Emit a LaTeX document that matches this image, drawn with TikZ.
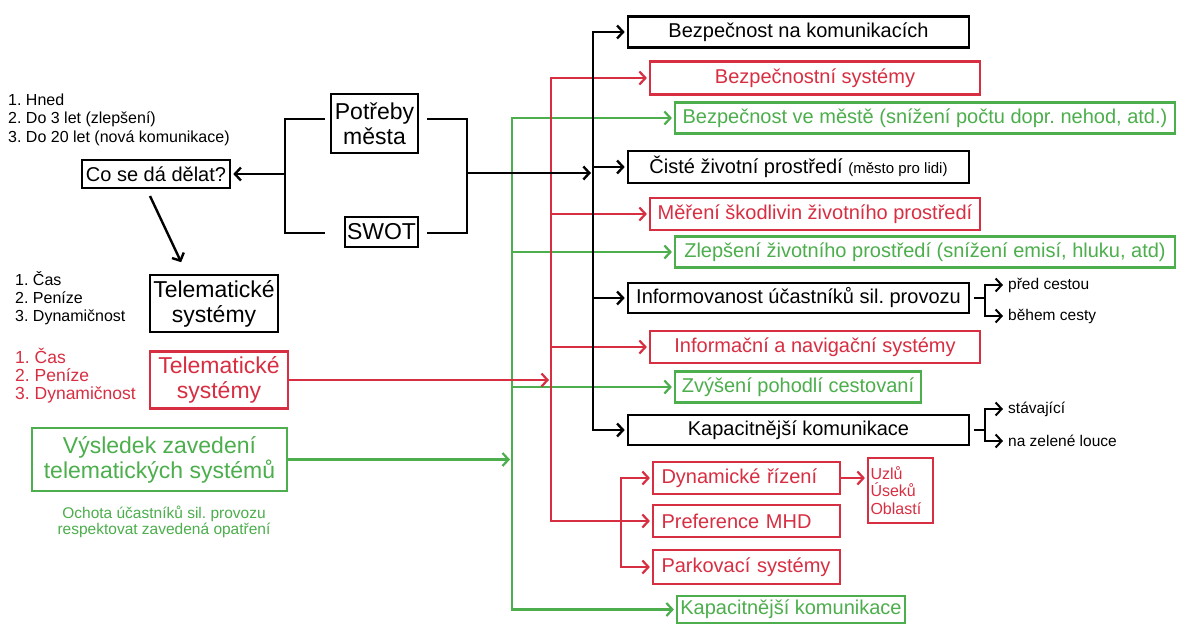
\documentclass[tikz,border=0pt]{standalone}
\usepackage{fontspec}
\setmainfont{Liberation Sans}
\usetikzlibrary{arrows.meta}
\definecolor{myred}{RGB}{216,46,66}
\definecolor{mygreen}{RGB}{76,174,76}
\frenchspacing
\begin{document}
\begin{tikzpicture}[x=1pt,y=-1pt,
  bx/.style={draw=black, line width=2.6pt, inner sep=0pt, font=\fontsize{20}{22}\selectfont},
  rbx/.style={bx, draw=myred, text=myred, line width=2.2pt},
  gbx/.style={bx, draw=mygreen, text=mygreen, line width=2.2pt},
  big/.style={font=\fontsize{23}{25}\selectfont, align=center},
  kl/.style={line width=2.4pt, draw=black},
  rl/.style={line width=2.2pt, draw=myred},
  gl/.style={line width=2.2pt, draw=mygreen},
  arr/.style={-{Straight Barb[length=6pt,width=13pt]}, shorten >=2pt},
  txt/.style={inner sep=0pt, anchor=base west},
  small/.style={inner sep=0pt, anchor=west, font=\fontsize{15.5}{17}\selectfont},
  wbox/.style={minimum width=341pt},
  rwbox/.style={minimum width=330pt},
  gwbox/.style={minimum width=500pt},
  lbox/.style={rbx, minimum width=187pt, text width=170pt, align=left}
]
\useasboundingbox[fill=white] (0,0) rectangle (1178,624);

% ---------- left side ----------
\node[txt, font=\fontsize{16}{18}\selectfont] (h1) at (8,105) {1. Hned};
\node[txt, font=\fontsize{16}{18}\selectfont] (h2) at (8,123) {2. Do 3 let (zlepšení)};
\node[txt, font=\fontsize{16}{18}\selectfont] (h3) at (8,142) {3. Do 20 let (nová komunikace)};

\node[bx, minimum width=148pt, minimum height=28pt] (co) at (156,174) {Co se dá dělat?};
\node[bx, big, minimum width=87pt, minimum height=59pt] (pm) at (374.5,123.5) {Potřeby\\města};
\node[bx, big, minimum width=73pt, minimum height=30pt] (sw) at (381.5,232) {SWOT};

\node[txt, font=\fontsize{16}{18}\selectfont] (k1) at (15,285) {1. Čas};
\node[txt, font=\fontsize{16}{18}\selectfont] (k2) at (15,303) {2. Peníze};
\node[txt, font=\fontsize{16}{18}\selectfont] (k3) at (15,321) {3. Dynamičnost};
\node[bx, big, minimum width=128pt, minimum height=57pt] (tk) at (214,303.5) {Telematické\\systémy};

\node[txt, text=myred, font=\fontsize{17.5}{19}\selectfont] (q1) at (15,363) {1. Čas};
\node[txt, text=myred, font=\fontsize{17.5}{19}\selectfont] (q2) at (15,381) {2. Peníze};
\node[txt, text=myred, font=\fontsize{17.5}{19}\selectfont] (q3) at (15,399) {3. Dynamičnost};
\node[rbx, big, minimum width=138pt, minimum height=57pt] (tr) at (219,380) {Telematické\\systémy};

\node[gbx, big, minimum width=255pt, minimum height=63pt] (vz) at (159.5,459.5) {Výsledek zavedení\\telematických systémů};
\node[inner sep=0pt, anchor=base, text=mygreen, font=\fontsize{15.5}{17}\selectfont] (o1) at (164,518) {Ochota účastníků sil. provozu};
\node[inner sep=0pt, anchor=base, text=mygreen, font=\fontsize{15.5}{17}\selectfont] (o2) at (164,534) {respektovat zavedená opatření};

% ---------- right column ----------
\node[bx, wbox, minimum height=31pt] (b1) at (798.5,32) {Bezpečnost na komunikacích};
\node[rbx, rwbox, minimum height=33pt] (b2) at (815,78) {Bezpečnostní systémy};
\node[gbx, gwbox, minimum height=31pt] (b3) at (925,118) {Bezpečnost ve městě (snížení počtu dopr. nehod, atd.)};
\node[bx, wbox, minimum height=32pt] (b4) at (798.5,167) {Čisté životní prostředí {\fontsize{15}{17}\selectfont (město pro lidi)}};
\node[rbx, rwbox, minimum height=32pt] (b5) at (815,214) {Měření škodlivin životního prostředí};
\node[gbx, gwbox, minimum height=31pt] (b6) at (925,252) {Zlepšení životního prostředí (snížení emisí, hluku, atd)};
\node[bx, wbox, minimum height=30pt] (b7) at (798.5,298) {Informovanost účastníků sil. provozu};
\node[rbx, rwbox, minimum height=32pt] (b8) at (815,347) {Informační a navigační systémy};
\node[gbx, minimum width=246pt, minimum height=31pt] (b9) at (798,387) {Zvýšení pohodlí cestovaní};
\node[bx, wbox, minimum height=30pt] (b10) at (798.5,430) {Kapacitnější komunikace};

\node[lbox, minimum height=32pt] (r1) at (746.5,478) {\mbox{Dynamické řízení}};
\node[lbox, minimum height=32pt] (r2) at (746.5,521) {\mbox{Preference MHD}};
\node[lbox, minimum height=34pt] (r3) at (746.5,567) {\mbox{Parkovací systémy}};
\node[rbx, minimum width=65pt, minimum height=65pt, text width=60pt, align=left, font=\fontsize{16}{17.5}\selectfont] (u) at (900.5,490.5) {Uzlů\\Úseků\\Oblastí};
\node[gbx, minimum width=228pt, minimum height=27pt] (g4) at (791,609.5) {Kapacitnější komunikace};

\node[small] (pc) at (1008,285) {před cestou};
\node[small] (bc) at (1008,316) {během cesty};
\node[small] (st) at (1008,409) {stávající};
\node[small] (nz) at (1008,441) {na zelené louce};

% ---------- coordinates ----------
\coordinate (K) at (593,0);
\coordinate (R) at (551,0);
\coordinate (G) at (512,0);
\coordinate (S) at (621,0);
\coordinate (IB) at (985,0);
\coordinate (lt) at (325,119);
\coordinate (lb) at (325,233);
\coordinate (lx) at (285,174);
\coordinate (rt) at (427,119);
\coordinate (rb) at (427,233);
\coordinate (rx) at (467,173);
\coordinate (c1) at (150,196);
\coordinate (c2) at (182,264);

% ---------- green connectors ----------
\draw[gl,arr] (b6.west -| G) -- (b3.west -| G) -- (b3.west);
\draw[gl,arr] (b6.west -| G) -- (b6.west);
\draw[gl,arr] (b9.west -| G) -- (b9.west);
\draw[gl,arr] (b6.west -| G) -- (g4.west -| G) -- (g4.west);
\draw[gl,arr] (vz.east) -- (vz.east -| G);

% ---------- red connectors ----------
\draw[rl,arr] (b8.west -| R) -- (b2.west -| R) -- (b2.west);
\draw[rl,arr] (b5.west -| R) -- (b5.west);
\draw[rl,arr] (b8.west -| R) -- (b8.west);
\draw[rl] (b8.west -| R) -- (r2.west -| R) -- (r2.west -| S);
\draw[rl,arr] (r2.west -| S) -- (r1.west -| S) -- (r1.west);
\draw[rl,arr] (r2.west -| S) -- (r3.west -| S) -- (r3.west);
\draw[rl,arr] (r2.west -| S) -- (r2.west);
\draw[rl,arr] (r1.east) -- (u.west |- r1.east);
\draw[rl,arr] (tr.east) -- (tr.east -| R);

% ---------- black connectors ----------
\draw[kl] (lt) -| (lx) |- (lb);
\draw[kl,arr] (lx) -- (co.east);
\draw[kl] (rt) -| (rx) |- (rb);
\draw[kl,arr] (rx) -- (rx -| K);
\draw[kl,arr] (c1) -- (c2);
\draw[kl,arr] (b4.west -| K) -- (b1.west -| K) -- (b1.west);
\draw[kl,arr] (b4.west -| K) -- (b4.west);
\draw[kl,arr] (b7.west -| K) -- (b7.west);
\draw[kl,arr] (b4.west -| K) -- (b10.west -| K) -- (b10.west);

\draw[line width=2pt] ([xshift=4pt]b7.east) -- (b7.east -| IB);
\draw[line width=2pt, arr, shorten >=5pt] (b7.east -| IB) |- (pc.west);
\draw[line width=2pt, arr, shorten >=5pt] (b7.east -| IB) |- (bc.west);
\draw[line width=2pt] ([xshift=4pt]b10.east) -- (b10.east -| IB);
\draw[line width=2pt, arr, shorten >=5pt] (b10.east -| IB) |- (st.west);
\draw[line width=2pt, arr, shorten >=5pt] (b10.east -| IB) |- (nz.west);
\end{tikzpicture}
\end{document}
